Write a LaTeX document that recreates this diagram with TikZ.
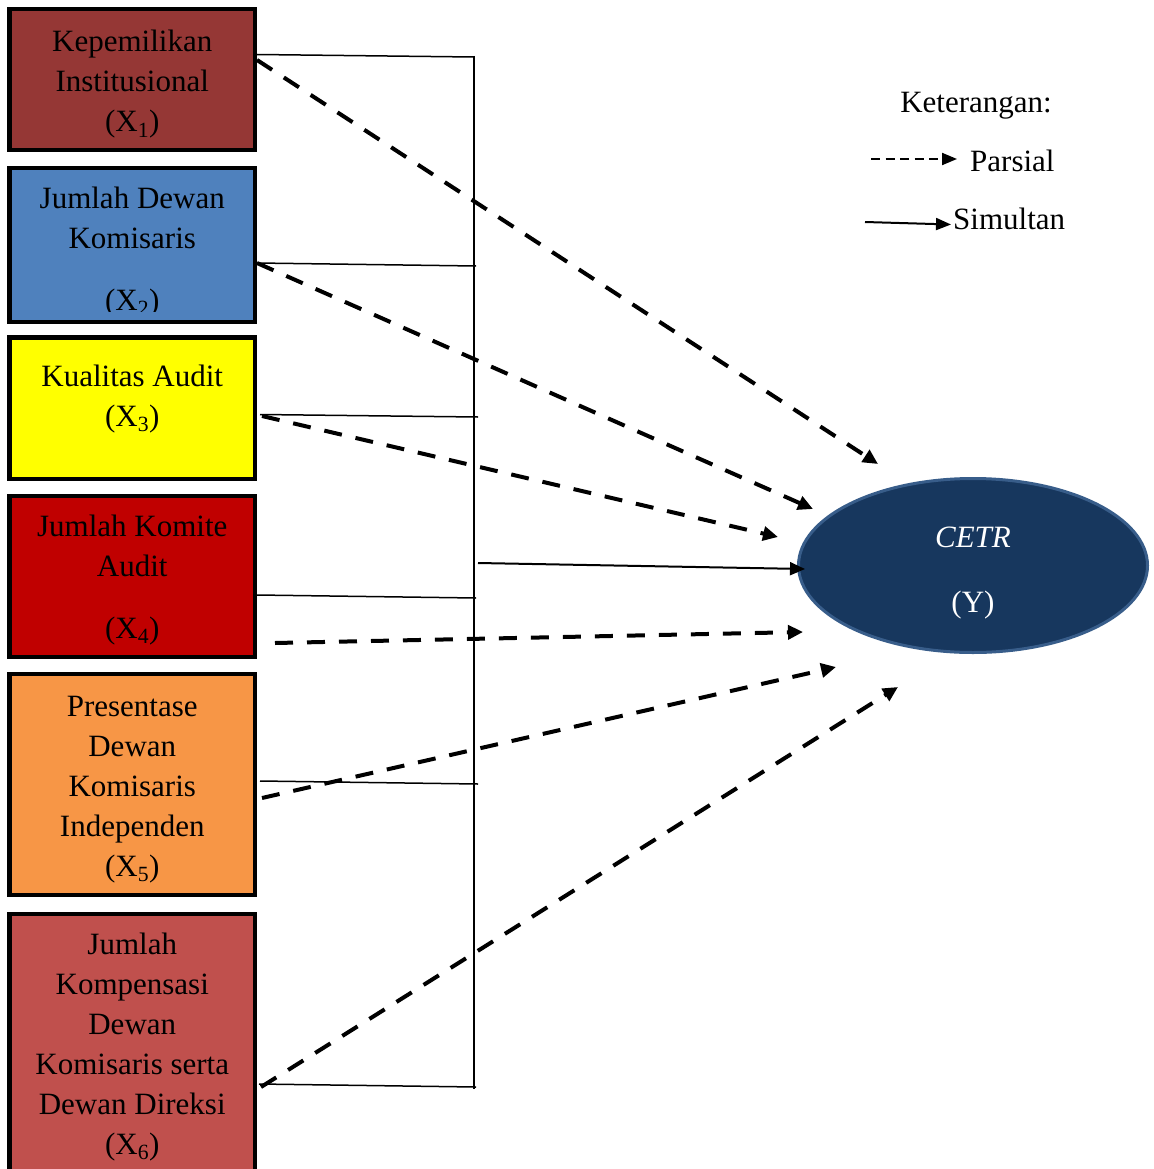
\documentclass[tikz,border=0pt]{standalone}
\usepackage{fontspec}
\setmainfont{Liberation Serif}
\usetikzlibrary{arrows.meta,shapes.geometric}
\definecolor{cA}{HTML}{953735}
\definecolor{cB}{HTML}{4F81BD}
\definecolor{cC}{HTML}{FFFF00}
\definecolor{cD}{HTML}{C00000}
\definecolor{cE}{HTML}{F79646}
\definecolor{cF}{HTML}{C0504D}
\definecolor{ellfill}{HTML}{17375E}
\definecolor{elldraw}{HTML}{385D8A}
\newcommand{\boxtxt}[1]{\parbox[t]{245pt}{\centering\fontsize{31}{40}\selectfont #1}}
\begin{document}
\begin{tikzpicture}[x=1pt,y=-1pt,
  varbox/.style={draw=black, line width=4.5pt, rectangle, inner sep=0pt, outer sep=0pt, minimum width=245.5pt},
  boxlabel/.style={anchor=base, inner sep=0pt, text=black},
  link/.style={line width=1.5pt},
  partial/.style={line width=4pt, dash pattern=on 18pt off 14pt, -{Triangle[length=15pt,width=14pt]}},
  simul/.style={line width=2pt, -{Triangle[length=15pt,width=13pt]}},
  legtext/.style={anchor=base west, inner sep=0pt, font=\fontsize{31}{37}\selectfont}
]
\useasboundingbox (0,0) rectangle (1153,1169);

% boxes
\node[varbox, fill=cA, minimum height=141pt] (x1) at (132.25,79.5) {};
\node[varbox, fill=cB, minimum height=154pt] (x2) at (132.25,245) {};
\node[varbox, fill=cC, minimum height=141.5pt] (x3) at (132.25,408.25) {};
\node[varbox, fill=cD, minimum height=161pt] (x4) at (132.25,576.5) {};
\node[varbox, fill=cE, minimum height=221pt] (x5) at (132.25,784.5) {};
\node[varbox, fill=cF, minimum height=280pt] (x6) at (132.25,1054) {};

% box texts
\node[boxlabel] (t1) at (132.25,52) {\boxtxt{Kepemilikan\\Institusional\\(X\textsubscript{1})}};
\begin{scope}
\clip (12,170) rectangle (253,311);
\node[boxlabel] (t2) at (132.25,208) {\boxtxt{Jumlah Dewan\\Komisaris\\[22pt](X\textsubscript{2})}};
\end{scope}
\node[boxlabel] (t3) at (132.25,386) {\boxtxt{Kualitas Audit\\(X\textsubscript{3})}};
\node[boxlabel] (t4) at (132.25,536) {\boxtxt{Jumlah Komite\\Audit\\[22pt](X\textsubscript{4})}};
\node[boxlabel] (t5) at (132.25,716) {\boxtxt{Presentase\\Dewan\\Komisaris\\Independen\\(X\textsubscript{5})}};
\node[boxlabel] (t6) at (132.25,954) {\boxtxt{Jumlah\\Kompensasi\\Dewan\\Komisaris serta\\Dewan Direksi\\(X\textsubscript{6})}};

% ellipse
\node[ellipse, draw=elldraw, line width=3pt, fill=ellfill, minimum width=349pt, minimum height=174pt, inner sep=0pt] (y) at (973,565.5) {};
\node[anchor=base, inner sep=0pt, text=white, font=\fontsize{31}{37}\selectfont\itshape] (ycetr) at (973,547) {CETR};
\node[anchor=base, inner sep=0pt, text=white, font=\fontsize{31}{37}\selectfont] (yy) at (973,612) {(Y)};

% bracket (simultaneous) lines
\coordinate (vt) at (474,56);
\coordinate (vb) at (474,1089);
\draw[link] (vt) -- (vb);
\coordinate (h1a) at (257,54.5);  \coordinate (h1b) at (474,57);
\coordinate (h2a) at (257,263);   \coordinate (h2b) at (476,266);
\coordinate (h3a) at (260,414.5); \coordinate (h3b) at (478,417);
\coordinate (h4a) at (257,595);   \coordinate (h4b) at (476,598);
\coordinate (h5a) at (260,781);   \coordinate (h5b) at (478,784);
\coordinate (h6a) at (259,1084);  \coordinate (h6b) at (476,1087);
\draw[link] (h1a) -- (h1b);
\draw[link] (h2a) -- (h2b);
\draw[link] (h3a) -- (h3b);
\draw[link] (h4a) -- (h4b);
\draw[link] (h5a) -- (h5b);
\draw[link] (h6a) -- (h6b);

% simultaneous arrow
\coordinate (ss) at (478,563);
\coordinate (se) at (805,569);
\draw[simul] (ss) -- (se);

% partial arrows
\coordinate (p1s) at (257,60);   \coordinate (p1e) at (878,464);
\coordinate (p2s) at (257,263);  \coordinate (p2e) at (813,509);
\coordinate (p3s) at (262,416);  \coordinate (p3e) at (778,537);
\coordinate (p4s) at (275,643);  \coordinate (p4e) at (803,632);
\coordinate (p5s) at (262,798);  \coordinate (p5e) at (836,667);
\coordinate (p6s) at (261,1087); \coordinate (p6e) at (898,687);
\draw[partial] (p1s) -- (p1e);
\draw[partial] (p2s) -- (p2e);
\draw[partial] (p3s) -- (p3e);
\draw[partial] (p4s) -- (p4e);
\draw[partial] (p5s) -- (p5e);
\draw[partial] (p6s) -- (p6e);

% legend
\node[anchor=base, inner sep=0pt, font=\fontsize{31}{37}\selectfont] (ket) at (976,113) {Keterangan:};
\coordinate (l1s) at (871,159); \coordinate (l1e) at (957,159);
\draw[line width=2pt, dash pattern=on 9pt off 5.5pt, -{Triangle[length=15pt,width=12pt]}] (l1s) -- (l1e);
\node[legtext] (parsial) at (970,172) {Parsial};
\coordinate (l2s) at (865,222); \coordinate (l2e) at (951,224.5);
\draw[line width=2pt, -{Triangle[length=15pt,width=12pt]}] (l2s) -- (l2e);
\node[legtext] (simultan) at (953,229) {Simultan};
\end{tikzpicture}
\end{document}
